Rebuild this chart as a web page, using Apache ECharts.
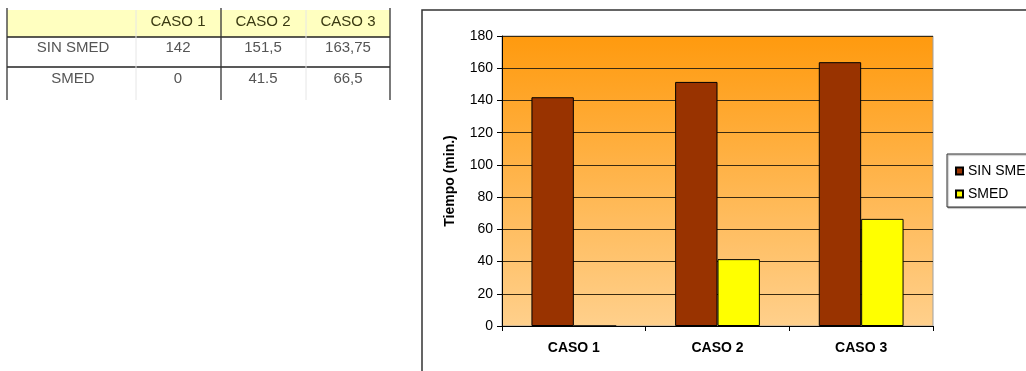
<!DOCTYPE html>
<html>
<head>
<meta charset="utf-8">
<script src="https://cdn.jsdelivr.net/npm/echarts@6/dist/echarts.min.js"></script>
<style>
  html, body { margin: 0; padding: 0; background: #fff; }
  #chart { width: 1026px; height: 371px; }
</style>
</head>
<body>
<div id="chart"></div>
<script>
// Data
const categories = ['CASO 1', 'CASO 2', 'CASO 3'];
const sinSmed = [142, 151.5, 163.75];
const smed = [0, 41.5, 66.5];
const seriesNames = ['SIN SMED', 'SMED'];
const tableValues = [['142', '151,5', '163,75'], ['0', '41.5', '66,5']];

const chart = echarts.init(document.getElementById('chart'));

// Data table drawn at top left
const colX = [7, 136, 221, 306, 390];
const rowY = [10, 37, 67, 100];
const textX = [73, 178, 263, 348];
const font = 'Liberation Sans, Arial, sans-serif';
const tableEls = [];
tableEls.push({ type: 'rect', shape: { x: colX[0], y: rowY[0], width: colX[4] - colX[0], height: rowY[1] - rowY[0] },
  style: { fill: '#ffffc0' } });
// header texts
categories.forEach((c, i) => {
  tableEls.push({ type: 'text', x: textX[i + 1], y: 22,
    style: { text: c, font: '15px ' + font, fill: '#3a3a12', align: 'center', verticalAlign: 'middle' } });
});
const rowTextY = [48, 79];
seriesNames.forEach((n, r) => {
  const cy = rowTextY[r];
  tableEls.push({ type: 'text', x: textX[0], y: cy,
    style: { text: n, font: '15px ' + font, fill: '#555', align: 'center', verticalAlign: 'middle' } });
  tableValues[r].forEach((v, i) => {
    tableEls.push({ type: 'text', x: textX[i + 1], y: cy,
      style: { text: v, font: '15px ' + font, fill: '#555', align: 'center', verticalAlign: 'middle' } });
  });
});
// table rules
[rowY[1], rowY[2]].forEach(y => tableEls.push({ type: 'line', shape: { x1: colX[0], y1: y, x2: colX[4], y2: y },
  style: { stroke: '#222', lineWidth: 1.3 } }));
[colX[1], colX[3]].forEach(x => tableEls.push({ type: 'line', shape: { x1: x, y1: rowY[0], x2: x, y2: rowY[3] },
  style: { stroke: '#e6e6e6', lineWidth: 1 } }));
[colX[0], colX[2], colX[4]].forEach(x => tableEls.push({ type: 'line', shape: { x1: x, y1: rowY[0] - 2, x2: x, y2: rowY[3] },
  style: { stroke: '#333', lineWidth: 1.3 } }));

const option = {
  animation: false,
  backgroundColor: '#ffffff',
  textStyle: { fontFamily: font },
  grid: {
    left: 502, top: 36, width: 431, height: 290,
    show: true,
    borderColor: '#a0a0a0', borderWidth: 1,
    backgroundColor: new echarts.graphic.LinearGradient(0, 0, 0, 1, [
      { offset: 0, color: '#ff9a0e' },
      { offset: 1, color: '#ffd08c' }
    ])
  },
  legend: {
    orient: 'vertical',
    left: 950, top: 159,
    itemWidth: 7, itemHeight: 7, itemGap: 9,
    icon: 'rect',
    data: seriesNames,
    textStyle: { fontSize: 14, color: '#000', fontFamily: font, padding: [0, 0, 0, 0] }
  },
  xAxis: {
    type: 'category',
    data: categories,
    axisLine: { lineStyle: { color: '#000', width: 1 } },
    axisTick: { show: true, length: 5, lineStyle: { color: '#000' } },
    axisLabel: { fontSize: 14, fontWeight: 'bold', color: '#000', margin: 15 }
  },
  yAxis: {
    type: 'value',
    min: 0, max: 180, interval: 20,
    name: 'Tiempo (min.)',
    nameLocation: 'middle', nameRotate: 90, nameGap: 45,
    nameTextStyle: { fontSize: 14, fontWeight: 'bold', color: '#000' },
    axisLine: { show: true, lineStyle: { color: '#000', width: 1 } },
    axisTick: { show: true, length: 5, lineStyle: { color: '#000' } },
    axisLabel: { fontSize: 14, color: '#000', margin: 9 },
    splitLine: { lineStyle: { color: '#3a2a10', width: 1 } }
  },
  series: [
    {
      name: seriesNames[0], type: 'bar', data: sinSmed,
      barGap: '0%', barCategoryGap: '41%',
      itemStyle: { color: '#993300', borderColor: '#000', borderWidth: 1 }
    },
    {
      name: seriesNames[1], type: 'bar', data: smed,
      itemStyle: { color: '#ffff00', borderColor: '#000', borderWidth: 1 }
    }
  ],
  graphic: [
    { type: 'rect', shape: { x: 422, y: 10, width: 700, height: 420 },
      style: { fill: 'none', stroke: '#333', lineWidth: 1.5 }, z: 10 },
    { type: 'rect', shape: { x: 947, y: 154, width: 120, height: 53 },
      style: { fill: '#fff', stroke: '#333', lineWidth: 1, shadowColor: 'rgba(0,0,0,0.35)', shadowOffsetX: 1, shadowOffsetY: 1, shadowBlur: 1 }, z: -1 }
  ].concat(tableEls)
};
chart.setOption(option);
</script>
</body>
</html>
